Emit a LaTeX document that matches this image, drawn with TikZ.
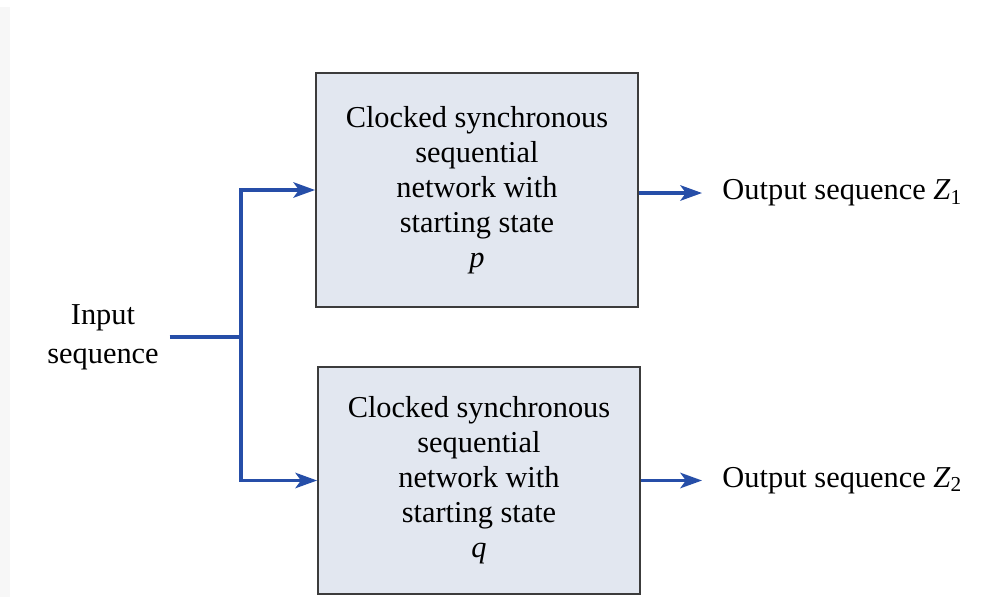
\documentclass[tikz,border=0pt]{standalone}
\usepackage{fontspec}
\setmainfont{Liberation Serif}
\usetikzlibrary{arrows.meta}
\usetikzlibrary{positioning}

\definecolor{boxfill}{RGB}{226,231,240}
\definecolor{wireblue}{RGB}{38,78,168}
\definecolor{boxline}{RGB}{60,60,60}

\begin{document}
\begin{tikzpicture}[x=0.3225pt,y=-0.3225pt]
\useasboundingbox (0,0) rectangle (985,597);
\fill [black!3] (0,7) rectangle (10,597);

\begin{scope}[every node/.style={rectangle,draw=boxline,line width=0.65pt,fill=boxfill,
              minimum width=103.8pt,align=center,font=\fontsize{9.8}{11.3}\selectfont}]
    \node [minimum height=75.5pt] (netp) at (477,190) {Clocked synchronous\\sequential\\network with\\starting state\\\textit{p}};
    \node [minimum height=73.2pt] (netq) at (479,480.5) {Clocked synchronous\\sequential\\network with\\starting state\\\textit{q}};
\end{scope}

\begin{scope}[every node/.style={align=center,font=\fontsize{9.8}{12.6}\selectfont}]
    \node (input) at (103,337) {Input\\sequence};
    \node [anchor=west,inner xsep=6.4pt] (outp) at (702,193) {Output sequence \textit{Z}\textsubscript{1}};
    \node [anchor=west,inner xsep=6.4pt] (outq) at (702,480.5) {Output sequence \textit{Z}\textsubscript{2}};
\end{scope}

\begin{scope}[>={Stealth[length=7pt,width=5pt,inset=1.8pt]},
              every path/.style={draw=wireblue,line width=1pt}]
    \coordinate (split) at (241,337);
    \draw (input.east) -- (split);
    \draw [->] (split) |- (netp.west);
    \draw [->] (split) |- (netq.west);
    \draw [->] (netp.east |- outp.west) -- (outp.west);
    \draw [->] (netq.east) -- (outq.west);
\end{scope}
\end{tikzpicture}
\end{document}
